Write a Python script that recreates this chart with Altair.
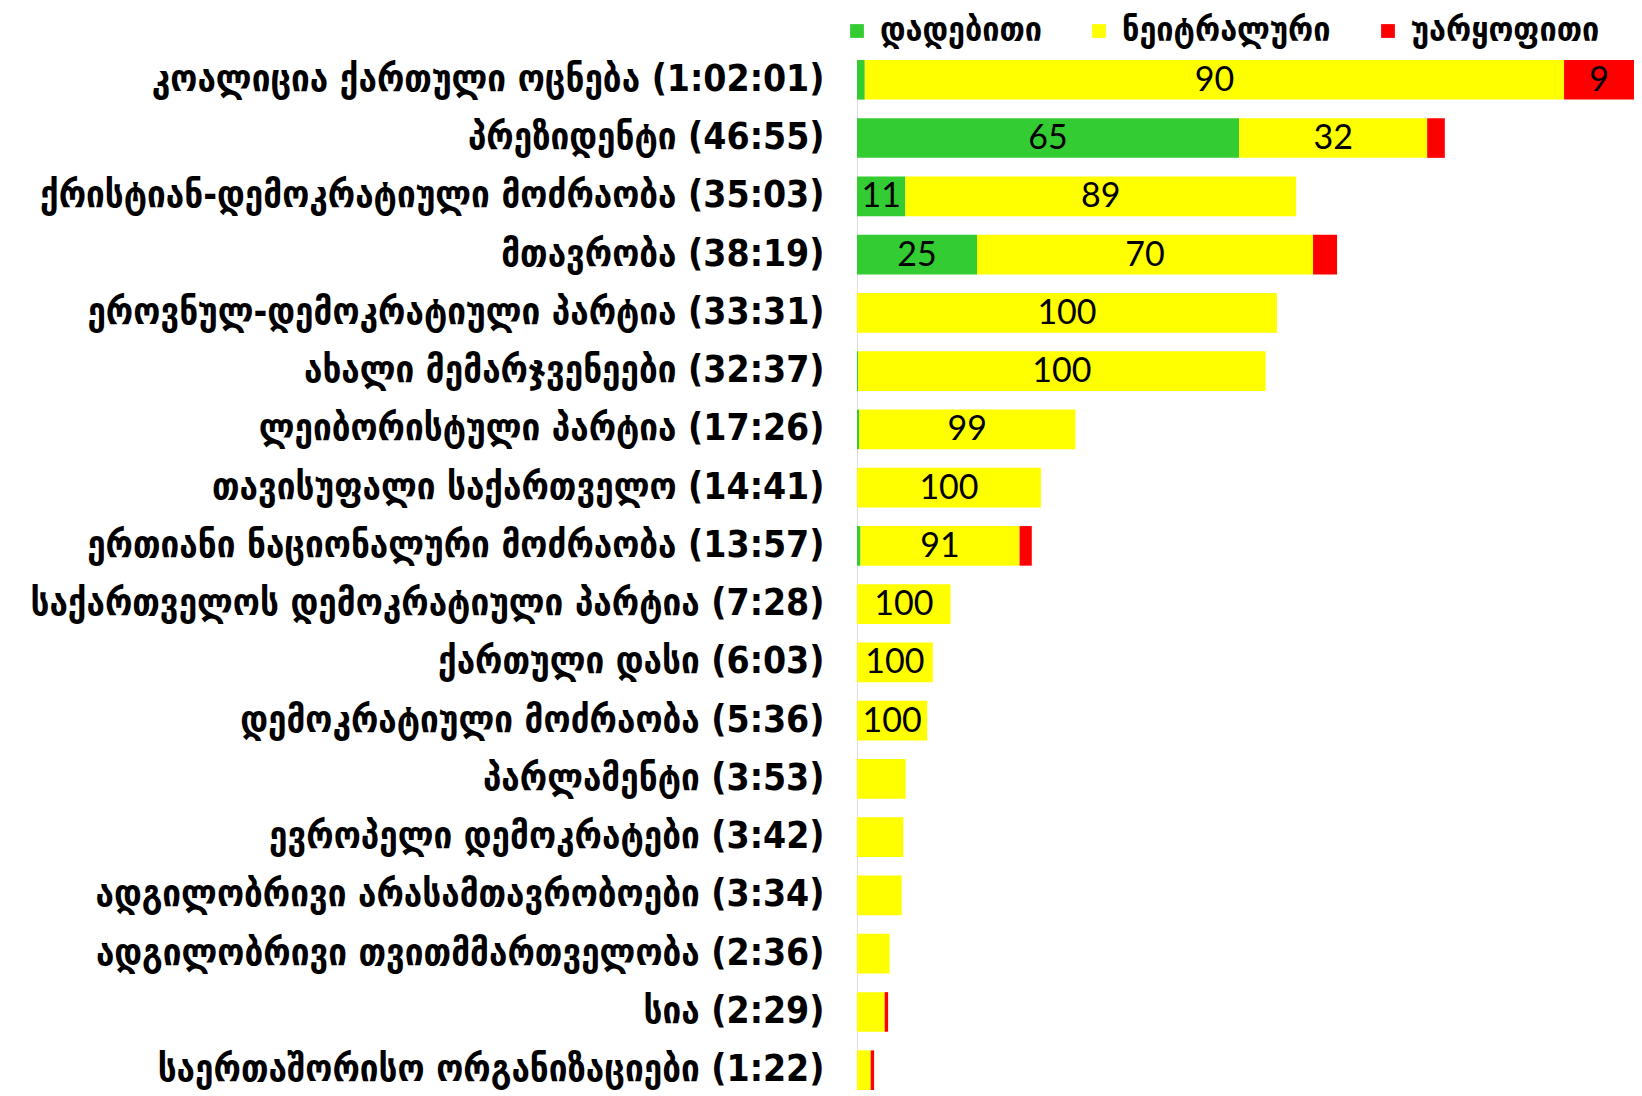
import altair as alt
import pandas as pd

categories = [
    "კოალიცია ქართული ოცნება",
    "პრეზიდენტი",
    "ქრისტიან-დემოკრატიული მოძრაობა",
    "მთავრობა",
    "ეროვნულ-დემოკრატიული პარტია",
    "ახალი მემარჯვენეები",
    "ლეიბორისტული პარტია",
    "თავისუფალი საქართველო",
    "ერთიანი ნაციონალური მოძრაობა",
    "საქართველოს დემოკრატიული პარტია",
    "ქართული დასი",
    "დემოკრატიული მოძრაობა",
    "პარლამენტი",
    "ევროპელი დემოკრატები",
    "ადგილობრივი არასამთავრობოები",
    "ადგილობრივი თვითმმართველობა",
    "სია",
    "საერთაშორისო ორგანიზაციები",
]
durations = ["1:02:01", "46:55", "35:03", "38:19", "33:31", "32:37", "17:26", "14:41",
             "13:57", "7:28", "6:03", "5:36", "3:53", "3:42", "3:34", "2:36", "2:29", "1:22"]
positive = [1, 65, 11, 25, 0, 0.3, 1, 0, 2, 0, 0, 0, 0, 0, 0, 0, 0, 0]
neutral = [90, 32, 89, 70, 100, 99.7, 99, 100, 91, 100, 100, 100, 100, 100, 100, 100, 89, 80]
negative = [9, 3, 0, 5, 0, 0, 0, 0, 7, 0, 0, 0, 0, 0, 0, 0, 11, 20]

sentiments = ["დადებითი", "ნეიტრალური", "უარყოფითი"]
colors = ["#33CC33", "#FFFF00", "#FF0000"]

GEO_FONT = "DejaVu Sans Condensed"
NUM_FONT = "Lato"


def to_minutes(s):
    secs = 0
    for p in s.split(":"):
        secs = secs * 60 + int(p)
    return secs / 60.0


labels = [f"{c} ({d})" for c, d in zip(categories, durations)]
totals = [to_minutes(d) for d in durations]

rows = []
for i, lab in enumerate(labels):
    for k, vals in enumerate([positive, neutral, negative]):
        share = vals[i]
        if share <= 0:
            continue
        seg = share * totals[i] / 100.0
        txt = str(int(round(share)))
        rows.append({
            "label": lab,
            "sentiment": sentiments[k],
            "order": k,
            "share": share,
            "minutes": seg,
            "text": txt,
            "show": seg >= 0.9 + 1.4 * len(txt),
        })
df = pd.DataFrame(rows)

max_total = max(totals)

base = alt.Chart(df).transform_stack(
    stack="minutes",
    groupby=["label"],
    as_=["x0", "x1"],
    sort=[alt.SortField("order", order="ascending")],
)

y_enc = alt.Y(
    "label:N",
    sort=labels,
    title=None,
    scale=alt.Scale(paddingInner=0.32, paddingOuter=0.0),
    axis=alt.Axis(
        domain=False, ticks=False, tickSize=0, labelPadding=33,
        labelFont=GEO_FONT, labelFontWeight="bold", labelFontSize=37,
        labelColor="black", labelLimit=0, minExtent=849, maxExtent=849,
    ),
)

x_scale = alt.Scale(domain=[0, max_total], nice=False, zero=True)

bars = base.mark_bar(stroke=None).encode(
    y=y_enc,
    x=alt.X("x0:Q", scale=x_scale, axis=None),
    x2="x1:Q",
    color=alt.Color(
        "sentiment:N",
        scale=alt.Scale(domain=sentiments, range=colors),
        legend=alt.Legend(
            title=None, orient="none", legendX=-17, legendY=-46,
            direction="horizontal", symbolType="square", symbolSize=190,
            symbolStrokeWidth=0, labelFont=GEO_FONT, labelFontWeight="bold",
            labelFontSize=34, labelColor="black", labelOffset=6,
            columnPadding=40, labelLimit=0,
        ),
    ),
    order=alt.Order("order:Q"),
)

texts = base.transform_filter("datum.show").transform_calculate(
    mid="(datum.x0 + datum.x1) / 2"
).mark_text(
    font=NUM_FONT, fontSize=34, color="black", baseline="middle", align="center", dy=1
).encode(
    y=alt.Y("label:N", sort=labels),
    x=alt.X("mid:Q", scale=x_scale, axis=None),
    text="text:N",
)

chart = alt.layer(bars, texts).properties(
    width=777, height=1030,
    padding={"top": 6, "left": 0, "right": 0, "bottom": 0},
).configure_view(stroke=None).configure(background="white")

chart.save("out.html", embed_options={"renderer": "svg", "actions": False})
